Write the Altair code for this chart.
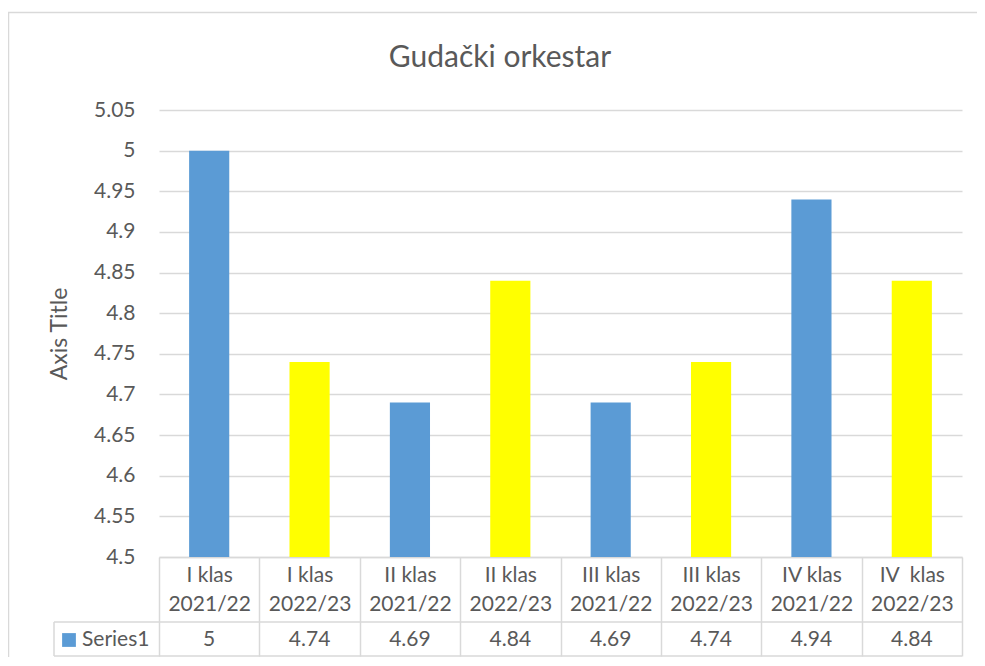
import altair as alt
import pandas as pd

categories = ["I klas|2021/22", "I klas|2022/23", "II klas|2021/22", "II klas|2022/23",
              "III klas|2021/22", "III klas|2022/23", "IV klas|2021/22", "IV\u00a0\u00a0klas|2022/23"]
years = ["2021/22", "2022/23", "2021/22", "2022/23", "2021/22", "2022/23", "2021/22", "2022/23"]
values = [5, 4.74, 4.69, 4.84, 4.69, 4.74, 4.94, 4.84]
value_labels = ["5", "4.74", "4.69", "4.84", "4.69", "4.74", "4.94", "4.84"]
y_ticks = [4.5, 4.55, 4.6, 4.65, 4.7, 4.75, 4.8, 4.85, 4.9, 4.95, 5.0, 5.05]
series_name = "Series1"
title_text = "Gudački orkestar"
y_title = "Axis Title"

FONT = "Lato"
TXT = "#595959"
GRID = "#d9d9d9"
BLUE = "#5b9bd5"
YELLOW = "#ffff00"
W, H = 803, 447
FS = 21

df = pd.DataFrame({"cat": categories, "year": years, "value": values, "label": value_labels})

xs = alt.X("cat:N", sort=categories,
           scale=alt.Scale(paddingInner=0, paddingOuter=0),
           axis=alt.Axis(title=None, labelExpr="split(datum.label, '|')", labelAngle=0,
                         labelFont=FONT, labelFontSize=FS, labelColor=TXT, labelLineHeight=29,
                         labelBaseline="middle", labelPadding=-81,
                         ticks=True, tickBand="extent", tickSize=99, tickColor=GRID, tickWidth=1.5,
                         domainColor=GRID, domainWidth=1.5, grid=False))

base = alt.Chart(df)

bars = base.mark_bar(width={"band": 0.4}, clip=True).encode(
    x=xs,
    y=alt.Y("value:Q", scale=alt.Scale(domain=[4.5, 5.05], zero=False, nice=False),
            axis=alt.Axis(values=y_ticks, format="~g", title=y_title, titleFont=FONT,
                          titleFontSize=23, titleFontWeight="normal", titleColor=TXT,
                          titlePadding=22, labelFont=FONT, labelFontSize=FS, labelColor=TXT,
                          labelPadding=24, ticks=False, tickSize=0, domain=False,
                          gridColor=GRID, gridWidth=1.5)),
    y2=alt.datum(4.5),
    color=alt.Color("year:N", scale=alt.Scale(domain=["2021/22", "2022/23"], range=[BLUE, YELLOW]),
                    legend=None),
)

vals = base.mark_text(font=FONT, fontSize=FS, color=TXT, baseline="middle").encode(
    x=alt.X("cat:N", sort=categories),
    y=alt.value(530),
    text="label:N",
)

one = alt.Chart(pd.DataFrame({"name": [series_name], "title": [title_text]}))

hline1 = one.mark_rule(color=GRID, strokeWidth=1.5).encode(
    x=alt.value(-105), x2=alt.value(W), y=alt.value(512))
hline2 = one.mark_rule(color=GRID, strokeWidth=1.5).encode(
    x=alt.value(-105), x2=alt.value(W), y=alt.value(546))
vline = one.mark_rule(color=GRID, strokeWidth=1.5).encode(
    x=alt.value(-105), y=alt.value(512), y2=alt.value(546))

swatch = one.mark_square(size=190, color=BLUE, opacity=1).encode(
    x=alt.value(-90), y=alt.value(530))
sname = one.mark_text(font=FONT, fontSize=FS, color=TXT, align="left", baseline="middle").encode(
    x=alt.value(-77), y=alt.value(530), text="name:N")

title = one.mark_text(font=FONT, fontSize=30, color=TXT, align="center",
                      baseline="alphabetic").encode(
    x=alt.value(341), y=alt.value(-43), text="title:N")

border = one.mark_rect(filled=False, stroke=GRID, strokeWidth=1.5).encode(
    x=alt.value(-150.5), x2=alt.value(W + 80), y=alt.value(-97.5), y2=alt.value(H + 140))

chart = alt.layer(border, bars, vals, hline1, hline2, vline, swatch, sname, title).properties(
    width=W, height=H,
    autosize=alt.AutoSizeParams(type="none"),
    padding={"left": 151, "top": 102, "right": 15, "bottom": 100},
).configure_view(stroke=None)

chart.save("out.html", embed_options={"renderer": "svg", "actions": False})
